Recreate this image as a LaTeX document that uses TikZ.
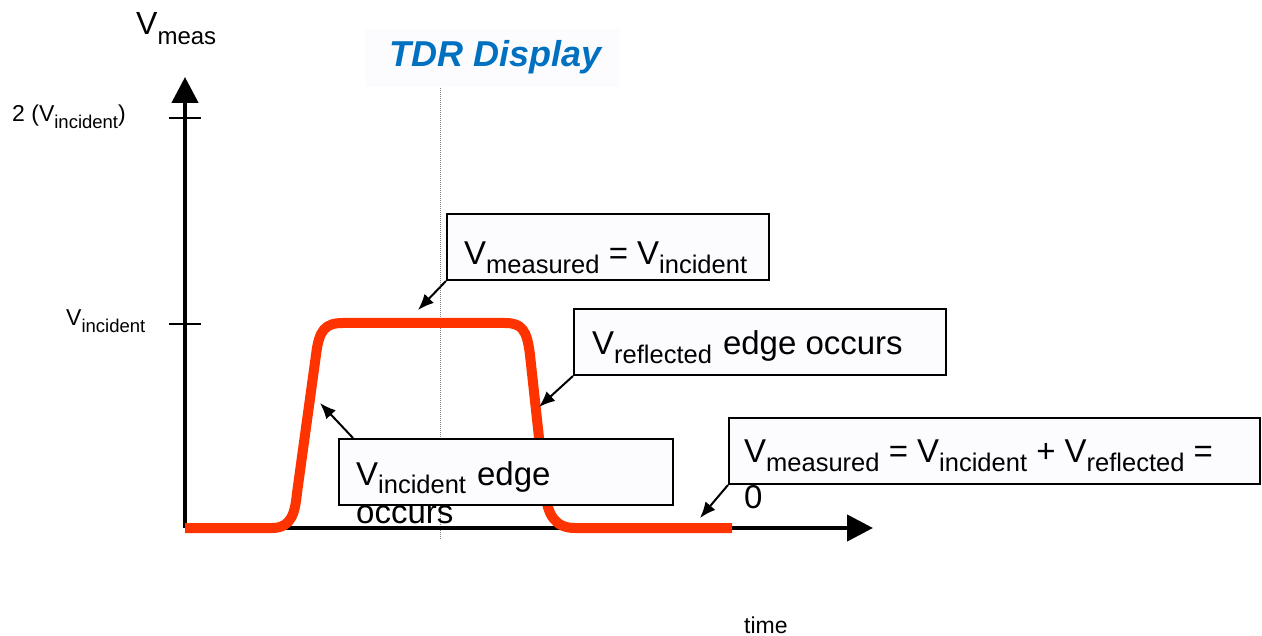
\documentclass[tikz,border=0pt]{standalone}
\usepackage{fontspec}
\setmainfont{Liberation Sans}
\usetikzlibrary{arrows.meta}

\definecolor{pulsered}{RGB}{255,51,0}
\definecolor{titleblue}{RGB}{0,112,192}
\definecolor{boxfill}{RGB}{252,252,255}
\definecolor{titlefill}{RGB}{252,252,255}

% V with a lowered subscript: main size, subscript size, drop, subscript text
\newcommand\Vlab[4]{{\fontsize{#1}{#1}\selectfont V\raisebox{-#3}{\fontsize{#2}{#2}\selectfont #4}}}
\newcommand\boxfont{\fontsize{33}{38}\selectfont}
\newcommand\bsub[1]{\raisebox{-9pt}{\fontsize{25.5}{28}\selectfont #1}}

\begin{document}
\begin{tikzpicture}[x=1pt,y=-1pt,
  axisline/.style={line width=4.5pt,-{Triangle[length=26pt,width=26pt]}},
  tickline/.style={line width=1.2pt},
  pulse/.style={pulsered,line width=10pt,line join=round},
  callbox/.style={draw=black,line width=2pt,fill=boxfill,inner sep=0pt,anchor=north west},
  callarrow/.style={line width=2pt,-{Latex[length=16pt,width=13pt]}},
  txt/.style={inner sep=0pt,anchor=base west},
  guide/.style={gray,line width=1pt,dash pattern=on 1pt off 1pt}]

\useasboundingbox (0,0) rectangle (1262,636);

% title panel and vertical guide
\node[fill=titlefill,inner sep=0pt,minimum width=255pt,minimum height=58pt,anchor=north west] (panel) at (365,29) {};
\node[txt,text=titleblue,font=\fontsize{36}{40}\selectfont\bfseries\itshape] (title) at (389,67) {TDR Display};
\coordinate (gtop) at (440,88);
\coordinate (gbot) at (440,540);
\draw[guide] (gtop) -- (gbot);

% axes
\coordinate (origin) at (185,528);
\coordinate (ytip) at (185,77);
\coordinate (xtip) at (873,528);
\draw[axisline] (origin) -- (ytip);
\draw[axisline] (origin) -- (xtip);

% ticks
\coordinate (t2a) at (169,118); \coordinate (t2b) at (201,118);
\coordinate (t1a) at (169,324); \coordinate (t1b) at (201,324);
\draw[tickline] (t2a) -- (t2b);
\draw[tickline] (t1a) -- (t1b);

% axis labels
\node[txt] (ylab) at (136,35) {\Vlab{32}{24}{10pt}{meas}};
\node[txt] (twolab) at (12,122) {\fontsize{23}{26}\selectfont 2 (\Vlab{23}{18.5}{7pt}{incident})};
\node[txt] (onelab) at (66,326) {\Vlab{23}{18.5}{7pt}{incident}};
\node[txt,font=\fontsize{23}{26}\selectfont] (xlab) at (744,633) {time};

% measured pulse
\draw[pulse] (185,528) -- (272,528)
  .. controls (292,528) and (295,512) .. (297,493)
  -- (316,355)
  .. controls (319,330) and (325,323) .. (343,323)
  -- (505,323)
  .. controls (522,323) and (527,330) .. (530,355)
  -- (545,493)
  .. controls (548,515) and (555,528) .. (575,528)
  -- (732,528);

% callout boxes
\node[callbox,minimum width=322pt,minimum height=66pt] (bmeas) at (446,213) {};
\node[txt] (tmeas) at (464,265) {\boxfont V\bsub{measured} = V\bsub{incident}};

\node[callbox,minimum width=372pt,minimum height=66pt] (brefl) at (573,308) {};
\node[txt] (trefl) at (592,355) {\boxfont V\bsub{reflected}\hskip11pt edge occurs};

\node[callbox,minimum width=334pt,minimum height=66pt] (binc) at (338,438) {};
\node[txt] (tinc) at (356,485) {\boxfont V\bsub{incident}\hskip11pt edge};
\node[txt] (tinc2) at (356,523) {\boxfont occurs};

\node[callbox,minimum width=531pt,minimum height=66pt] (bsum) at (728,417) {};
\node[txt] (tsum) at (744,463) {\boxfont V\bsub{measured} = V\bsub{incident} + V\bsub{reflected} =};
\node[txt] (tsum2) at (744,508) {\boxfont 0};

% callout arrows
\coordinate (pmeas) at (418,310);
\coordinate (prefl) at (539,407);
\coordinate (pinc) at (320,403);
\coordinate (pinc0) at (353,438);
\coordinate (psum) at (700,518);
\draw[callarrow] (bmeas.south west) -- (pmeas);
\draw[callarrow] (brefl.south west) -- (prefl);
\draw[callarrow] (pinc0) -- (pinc);
\draw[callarrow] (bsum.south west) -- (psum);
\end{tikzpicture}
\end{document}
